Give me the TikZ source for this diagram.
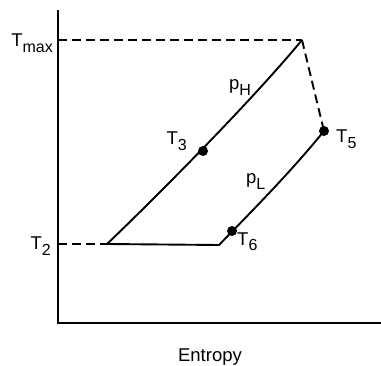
\documentclass[tikz,border=0pt]{standalone}
\usepackage{fontspec}
\setmainfont{Liberation Sans}
\newcommand\lblsub[1]{\raisebox{-5.5pt}{\fontsize{16}{16}\selectfont #1}}
\begin{document}
\begin{tikzpicture}[x=1pt,y=1pt,
  line/.style={line width=1.9pt},
  dashline/.style={line width=1.9pt,dash pattern=on 9pt off 5pt},
  dot/.style={circle,fill=black,inner sep=0pt,minimum size=10pt},
  lbl/.style={inner sep=0pt,font=\fontsize{18.5}{18.5}\selectfont}]
\useasboundingbox (0,0) rectangle (381,365);
% axes
\coordinate (ytop) at (58,355);
\coordinate (orig) at (58,42);
\coordinate (xend) at (381,42);
\draw[line] (ytop) -- (orig) -- (xend);
% key points
\coordinate (tmaxax) at (58,325);
\coordinate (peak) at (302,325);
\coordinate (t2ax) at (58,121);
\coordinate (start) at (107,121);
\coordinate (bend) at (219,120);
\node[dot] (t3) at (203,214) {};
\node[dot] (t5) at (324,234) {};
\node[dot] (t6) at (232,134) {};
% dashed lines
\draw[dashline] (tmaxax) -- (peak);
\draw[dashline] (t2ax) -- (start);
\draw[dashline] (peak) -- (t5.center);
% process lines
\draw[line] (start) .. controls (150,162) and (250,262) .. (peak);
\draw[line] (start) -- (bend) .. controls (250,152) and (290,192) .. (t5.center);
% labels
\node[lbl,anchor=base east] (lmax) at (53,318) {T\lblsub{max}};
\node[lbl,anchor=base east] (l2) at (51,115) {T\lblsub{2}};
\node[lbl,anchor=base east] (l3) at (187,220) {T\lblsub{3}};
\node[lbl,anchor=base west] (lph) at (229,275) {p\lblsub{H}};
\node[lbl,anchor=base west] (lpl) at (246,181) {p\lblsub{L}};
\node[lbl,anchor=base west] (l5) at (336,222) {T\lblsub{5}};
\node[lbl,anchor=base west] (l6) at (237,120) {T\lblsub{6}};
\node[lbl,anchor=base] (ent) at (210,4) {Entropy};
\end{tikzpicture}
\end{document}
